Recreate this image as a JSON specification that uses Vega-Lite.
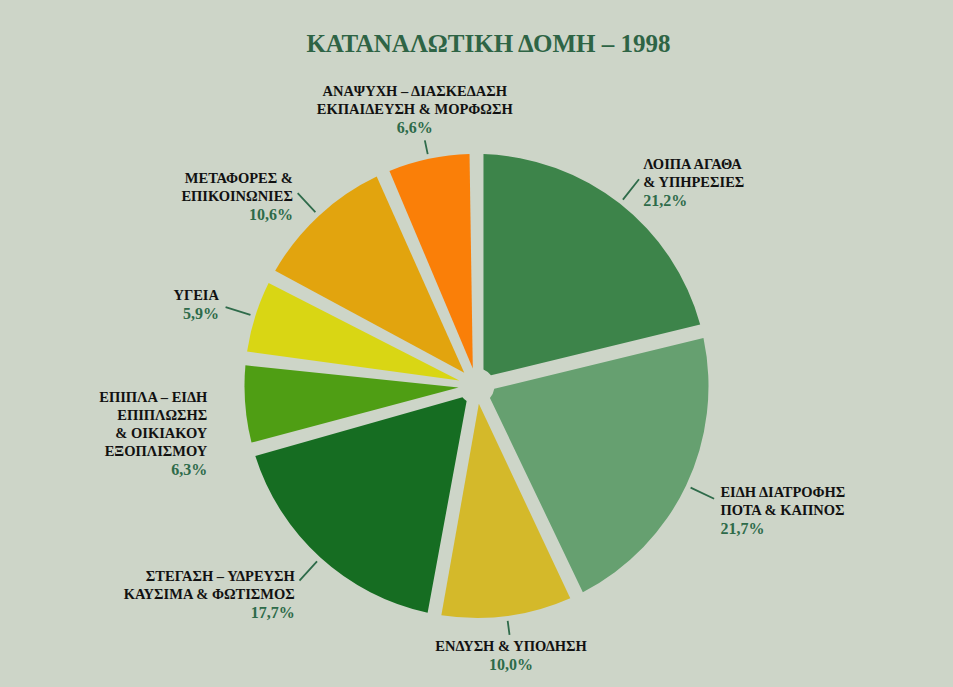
{
  "$schema": "https://vega.github.io/schema/vega-lite/v6.json",
  "width": 953,
  "height": 687,
  "autosize": {"type": "fit", "contains": "padding"},
  "padding": {"top": 33, "left": 0, "right": 0, "bottom": 0},
  "background": "#cdd5c8",
  "title": {
    "text": "ΚΑΤΑΝΑΛΩΤΙΚΗ ΔΟΜΗ – 1998",
    "font": "Liberation Serif",
    "fontSize": 25,
    "fontWeight": "bold",
    "color": "#2e6445",
    "anchor": "middle",
    "dx": 12,
    "offset": 27
  },
  "config": {
    "view": {"stroke": null},
    "text": {"font": "Liberation Serif", "fontWeight": "bold", "baseline": "middle", "lineBreak": "\n", "lineHeight": 18}
  },
  "data": {
    "values": [
      {"k": 1, "cat": "ΛΟΙΠΑ ΑΓΑΘΑ & ΥΠΗΡΕΣΙΕΣ", "v": 21.2, "name": "ΛΟΙΠΑ ΑΓΑΘΑ\n& ΥΠΗΡΕΣΙΕΣ", "pct": "21,2%"},
      {"k": 2, "cat": "ΕΙΔΗ ΔΙΑΤΡΟΦΗΣ ΠΟΤΑ & ΚΑΠΝΟΣ", "v": 21.7, "name": "ΕΙΔΗ ΔΙΑΤΡΟΦΗΣ\nΠΟΤΑ & ΚΑΠΝΟΣ", "pct": "21,7%"},
      {"k": 3, "cat": "ΕΝΔΥΣΗ & ΥΠΟΔΗΣΗ", "v": 10.0, "name": "ΕΝΔΥΣΗ  & ΥΠΟΔΗΣΗ", "pct": "10,0%"},
      {"k": 4, "cat": "ΣΤΕΓΑΣΗ – ΥΔΡΕΥΣΗ ΚΑΥΣΙΜΑ & ΦΩΤΙΣΜΟΣ", "v": 17.7, "name": "ΣΤΕΓΑΣΗ – ΥΔΡΕΥΣΗ\nΚΑΥΣΙΜΑ & ΦΩΤΙΣΜΟΣ", "pct": "17,7%"},
      {"k": 5, "cat": "ΕΠΙΠΛΑ – ΕΙΔΗ ΕΠΙΠΛΩΣΗΣ & ΟΙΚΙΑΚΟΥ ΕΞΟΠΛΙΣΜΟΥ", "v": 6.3, "name": "ΕΠΙΠΛΑ – ΕΙΔΗ\nΕΠΙΠΛΩΣΗΣ\n& ΟΙΚΙΑΚΟΥ\nΕΞΟΠΛΙΣΜΟΥ", "pct": "6,3%"},
      {"k": 6, "cat": "ΥΓΕΙΑ", "v": 5.9, "name": "ΥΓΕΙΑ", "pct": "5,9%"},
      {"k": 7, "cat": "ΜΕΤΑΦΟΡΕΣ & ΕΠΙΚΟΙΝΩΝΙΕΣ", "v": 10.6, "name": "ΜΕΤΑΦΟΡΕΣ &\nΕΠΙΚΟΙΝΩΝΙΕΣ", "pct": "10,6%"},
      {"k": 8, "cat": "ΑΝΑΨΥΧΗ – ΔΙΑΣΚΕΔΑΣΗ ΕΚΠΑΙΔΕΥΣΗ & ΜΟΡΦΩΣΗ", "v": 6.6, "name": "ΑΝΑΨΥΧΗ – ΔΙΑΣΚΕΔΑΣΗ\nΕΚΠΑΙΔΕΥΣΗ & ΜΟΡΦΩΣΗ", "pct": "6,6%"}
    ]
  },
  "encoding": {
    "theta": {"field": "v", "type": "quantitative", "stack": true},
    "order": {"field": "k", "type": "quantitative"}
  },
  "layer": [
    {
      "mark": {"type": "arc", "radius": 232, "radius2": 18, "padAngle": 0.06},
      "encoding": {
        "color": {
          "field": "cat",
          "type": "nominal",
          "scale": {
            "domain": [
              "ΛΟΙΠΑ ΑΓΑΘΑ & ΥΠΗΡΕΣΙΕΣ",
              "ΕΙΔΗ ΔΙΑΤΡΟΦΗΣ ΠΟΤΑ & ΚΑΠΝΟΣ",
              "ΕΝΔΥΣΗ & ΥΠΟΔΗΣΗ",
              "ΣΤΕΓΑΣΗ – ΥΔΡΕΥΣΗ ΚΑΥΣΙΜΑ & ΦΩΤΙΣΜΟΣ",
              "ΕΠΙΠΛΑ – ΕΙΔΗ ΕΠΙΠΛΩΣΗΣ & ΟΙΚΙΑΚΟΥ ΕΞΟΠΛΙΣΜΟΥ",
              "ΥΓΕΙΑ",
              "ΜΕΤΑΦΟΡΕΣ & ΕΠΙΚΟΙΝΩΝΙΕΣ",
              "ΑΝΑΨΥΧΗ – ΔΙΑΣΚΕΔΑΣΗ ΕΚΠΑΙΔΕΥΣΗ & ΜΟΡΦΩΣΗ"
            ],
            "range": ["#3d844a", "#66a070", "#d4b92a", "#166d22", "#4f9e14", "#d9d614", "#e2a40e", "#fa7f08"]
          },
          "legend": null
        }
      }
    },
    {
      "mark": {"type": "arc", "radius": 263, "radius2": 237, "padAngle": 3.1, "filled": false, "stroke": "#2e6b4a", "strokeWidth": 1.8},
      "encoding": {
        "opacity": {"condition": {"test": "datum.k == 1 || datum.k == 2 || datum.k == 4 || datum.k == 6 || datum.k == 7", "value": 1}, "value": 0}
      }
    },
    {
      "mark": {"type": "arc", "radius": 251, "radius2": 237, "padAngle": 3.1, "filled": false, "stroke": "#2e6b4a", "strokeWidth": 1.8},
      "encoding": {
        "opacity": {"condition": {"test": "datum.k == 3 || datum.k == 8", "value": 1}, "value": 0}
      }
    },
    {
      "mark": {"type": "text", "radius": 270, "dy": -9, "align": "right", "fontSize": 14.5, "color": "#111111"},
      "encoding": {
        "text": {"field": "name", "type": "nominal"},
        "opacity": {"condition": {"test": "datum.k >= 4 && datum.k <= 7", "value": 1}, "value": 0}
      }
    },
    {
      "mark": {"type": "text", "radius": 270, "dy": 27, "align": "right", "fontSize": 16, "color": "#2e6b4a"},
      "encoding": {
        "text": {"field": "pct", "type": "nominal"},
        "opacity": {"condition": {"test": "datum.k == 4 || datum.k == 7", "value": 1}, "value": 0}
      }
    },
    {
      "mark": {"type": "text", "radius": 270, "dy": 63, "align": "right", "fontSize": 16, "color": "#2e6b4a"},
      "encoding": {
        "text": {"field": "pct", "type": "nominal"},
        "opacity": {"condition": {"test": "datum.k == 5", "value": 1}, "value": 0}
      }
    },
    {
      "mark": {"type": "text", "radius": 270, "dy": 9, "align": "right", "fontSize": 16, "color": "#2e6b4a"},
      "encoding": {
        "text": {"field": "pct", "type": "nominal"},
        "opacity": {"condition": {"test": "datum.k == 6", "value": 1}, "value": 0}
      }
    },
    {
      "mark": {"type": "text", "radius": 270, "dy": -9, "align": "left", "fontSize": 14.5, "color": "#111111"},
      "encoding": {
        "text": {"field": "name", "type": "nominal"},
        "opacity": {"condition": {"test": "datum.k <= 2", "value": 1}, "value": 0}
      }
    },
    {
      "mark": {"type": "text", "radius": 270, "dy": 27, "align": "left", "fontSize": 16, "color": "#2e6b4a"},
      "encoding": {
        "text": {"field": "pct", "type": "nominal"},
        "opacity": {"condition": {"test": "datum.k <= 2", "value": 1}, "value": 0}
      }
    },
    {
      "mark": {"type": "text", "radius": 300, "align": "center", "fontSize": 14.5, "color": "#111111"},
      "encoding": {
        "text": {"field": "name", "type": "nominal"},
        "opacity": {"condition": {"test": "datum.k == 8", "value": 1}, "value": 0}
      }
    },
    {
      "mark": {"type": "text", "radius": 300, "dy": 36, "align": "center", "fontSize": 16, "color": "#2e6b4a"},
      "encoding": {
        "text": {"field": "pct", "type": "nominal"},
        "opacity": {"condition": {"test": "datum.k == 8", "value": 1}, "value": 0}
      }
    },
    {
      "mark": {"type": "text", "radius": 263, "align": "center", "fontSize": 14.5, "color": "#111111"},
      "encoding": {
        "text": {"field": "name", "type": "nominal"},
        "opacity": {"condition": {"test": "datum.k == 3", "value": 1}, "value": 0}
      }
    },
    {
      "mark": {"type": "text", "radius": 263, "dy": 18, "align": "center", "fontSize": 16, "color": "#2e6b4a"},
      "encoding": {
        "text": {"field": "pct", "type": "nominal"},
        "opacity": {"condition": {"test": "datum.k == 3", "value": 1}, "value": 0}
      }
    }
  ]
}
